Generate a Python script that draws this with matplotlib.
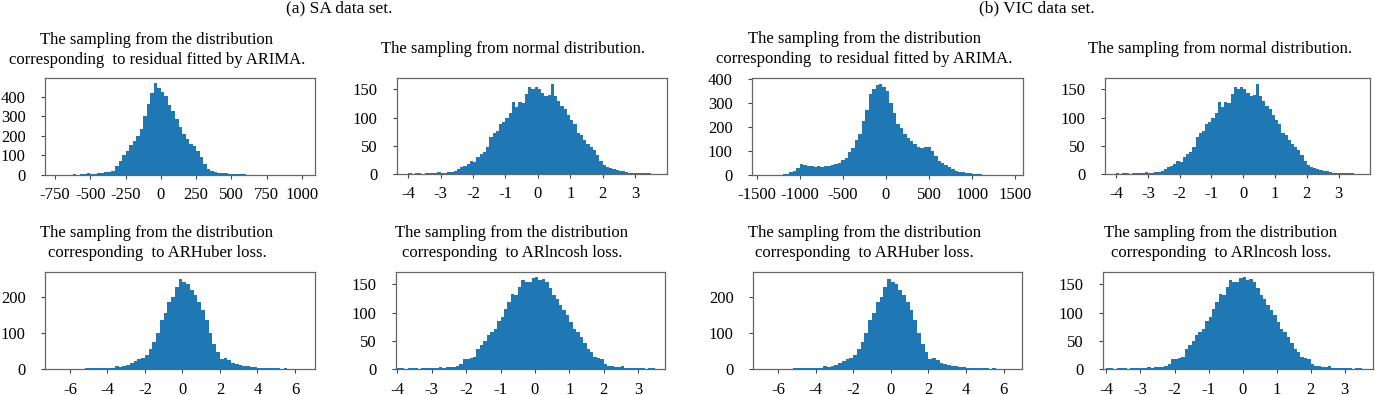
import numpy as np
import matplotlib
matplotlib.use('Agg')
import matplotlib.pyplot as plt

plt.rcParams['font.family'] = ['Liberation Serif', 'DejaVu Serif']

# histogram counts (bin start, bin width, counts)
sa_arima_start, sa_arima_width = -800, 25
sa_arima_counts = [1, 1, 2, 1, 2, 1, 2, 3, 2, 3, 4, 9, 4, 6, 8, 10, 13, 15, 22, 45,
                   70, 100, 125, 155, 172, 200, 235, 300, 365, 420, 468, 445, 425, 405,
                   360, 325, 285, 245, 212, 185, 158, 150, 125, 90, 58, 32, 20, 15, 12,
                   10, 8, 7, 5, 4, 3, 3, 2, 2, 1, 1, 1, 1, 0, 1, 0, 0, 1, 0, 0, 0, 0,
                   1, 0, 1]

vic_arima_start, vic_arima_width = -1440, 40
vic_arima_counts = [1, 1, 2, 1, 2, 2, 3, 6, 11, 16, 28, 45, 40, 37, 36, 35, 36, 35, 38,
                    37, 40, 44, 52, 62, 72, 95, 112, 145, 172, 225, 270, 340, 360, 375,
                    382, 368, 350, 300, 258, 212, 198, 170, 155, 143, 128, 118, 112, 116,
                    118, 100, 80, 60, 50, 43, 34, 24, 16, 12, 11, 8, 7, 6, 4, 3, 2, 2,
                    1, 1, 1, 1, 0, 1]

normal_start, normal_width = -4.0, 0.1
normal_counts = [1, 0, 1, 1, 0, 1, 1, 2, 1, 3, 2, 2, 3, 3, 6, 8, 12, 15, 17, 23, 21, 30,
                 35, 39, 48, 66, 72, 76, 88, 92, 100, 108, 128, 119, 127, 126, 142, 154,
                 150, 154, 150, 143, 139, 140, 160, 138, 130, 121, 115, 104, 95, 89, 73,
                 69, 60, 54, 48, 42, 34, 23, 16, 13, 10, 8, 7, 5, 5, 3, 2, 2, 1, 2, 1,
                 1, 1]

huber_start, huber_width = -6.8, 0.2
huber_counts = [1, 0, 1, 0, 1, 1, 1, 1, 2, 3, 2, 2, 3, 3, 4, 3, 9, 6, 9, 12, 18, 22, 28,
                31, 40, 55, 75, 100, 135, 155, 186, 200, 228, 250, 242, 236, 218, 205,
                185, 165, 135, 100, 70, 46, 28, 30, 25, 17, 13, 10, 8, 7, 6, 5, 4, 3, 3,
                2, 2, 2, 1, 2, 1, 1, 1, 0]

lncosh_start, lncosh_width = -4.0, 0.1
lncosh_counts = [1, 1, 0, 1, 1, 1, 0, 1, 1, 1, 2, 2, 3, 2, 3, 4, 3, 6, 9, 17, 18, 19, 22,
                 35, 42, 49, 60, 65, 71, 86, 92, 107, 119, 133, 131, 146, 158, 155, 154,
                 161, 163, 158, 160, 155, 143, 131, 125, 113, 104, 95, 83, 71, 65, 57, 46,
                 36, 30, 21, 19, 18, 9, 6, 5, 4, 3, 5, 2, 2, 2, 1, 1, 1, 0, 1, 1]

titles = [
    'The sampling from the distribution\ncorresponding  to residual fitted by ARIMA.',
    'The sampling from normal distribution.',
    'The sampling from the distribution\ncorresponding  to ARHuber loss.',
    'The sampling from the distribution\ncorresponding  to ARlncosh loss.',
]
headers = ['(a) SA data set.', '(b) VIC data set.']

W, H = 1375, 395
fig = plt.figure(figsize=(W / 100, H / 100), dpi=100)


def px_axes(x0, x1, y0, y1):
    return fig.add_axes([x0 / W, 1 - y1 / H, (x1 - x0) / W, (y1 - y0) / H])


def hist(ax, start, width, counts, xlim, ylim, xticks, yticks):
    edges = start + width * np.arange(len(counts))
    ax.bar(edges, counts, width=width, align='edge', color='#1f77b4', linewidth=0)
    ax.set_xlim(*xlim)
    ax.set_ylim(*ylim)
    ax.set_xticks(xticks)
    ax.set_yticks(yticks)
    ax.set_xticklabels([str(t) for t in xticks])
    ax.tick_params(labelsize=12, length=3, width=0.8, color='#444444')
    ax.tick_params(axis='x', pad=6)
    ax.tick_params(axis='y', pad=11)
    for s in ax.spines.values():
        s.set_color('#666666')
        s.set_linewidth(0.9)


# (a) SA
ax = px_axes(45, 315, 78, 175)
hist(ax, sa_arima_start, sa_arima_width, sa_arima_counts, (-821, 1092), (0, 496),
     list(range(-750, 1001, 250)), [0, 100, 200, 300, 400])
ax = px_axes(397, 667, 78, 174)
hist(ax, normal_start, normal_width, normal_counts, (-4.35, 3.99), (0, 170),
     list(range(-4, 4)), [0, 50, 100, 150])
ax = px_axes(45, 315, 272, 369)
hist(ax, huber_start, huber_width, huber_counts, (-7.33, 7.07), (0, 269),
     list(range(-6, 7, 2)), [0, 100, 200])
ax = px_axes(396, 665, 272, 369)
hist(ax, lncosh_start, lncosh_width, lncosh_counts, (-4.04, 3.78), (0, 172),
     list(range(-4, 4)), [0, 50, 100, 150])

# (b) VIC
ax = px_axes(752, 1023, 78, 175)
hist(ax, vic_arima_start, vic_arima_width, vic_arima_counts, (-1555, 1593), (0, 405),
     list(range(-1500, 1501, 500)), [0, 100, 200, 300, 400])
ax = px_axes(1105, 1370, 78, 174)
hist(ax, normal_start, normal_width, normal_counts, (-4.35, 3.99), (0, 170),
     list(range(-4, 4)), [0, 50, 100, 150])
ax = px_axes(753, 1022, 272, 369)
hist(ax, huber_start, huber_width, huber_counts, (-7.33, 6.98), (0, 269),
     list(range(-6, 7, 2)), [0, 100, 200])
ax = px_axes(1103, 1373, 272, 369)
hist(ax, lncosh_start, lncosh_width, lncosh_counts, (-4.1, 3.83), (0, 172),
     list(range(-4, 4)), [0, 50, 100, 150])

# titles
tkw = dict(ha='center', va='center', fontsize=12, linespacing=1.3)
fig.text(157 / W, 1 - 50 / H, titles[0], **tkw)
fig.text(513 / W, 1 - 49 / H, titles[1], **tkw)
fig.text(864 / W, 1 - 49 / H, titles[0], **tkw)
fig.text(1220 / W, 1 - 49 / H, titles[1], **tkw)
fig.text(157 / W, 1 - 243 / H, titles[2], **tkw)
fig.text(512 / W, 1 - 243 / H, titles[3], **tkw)
fig.text(864 / W, 1 - 243 / H, titles[2], **tkw)
fig.text(1221 / W, 1 - 243 / H, titles[3], **tkw)

fig.text(339 / W, 1 - 8 / H, headers[0], ha='center', va='center', fontsize=12.5)
fig.text(1037 / W, 1 - 8 / H, headers[1], ha='center', va='center', fontsize=12.5)

fig.savefig('out.png', dpi=100)
